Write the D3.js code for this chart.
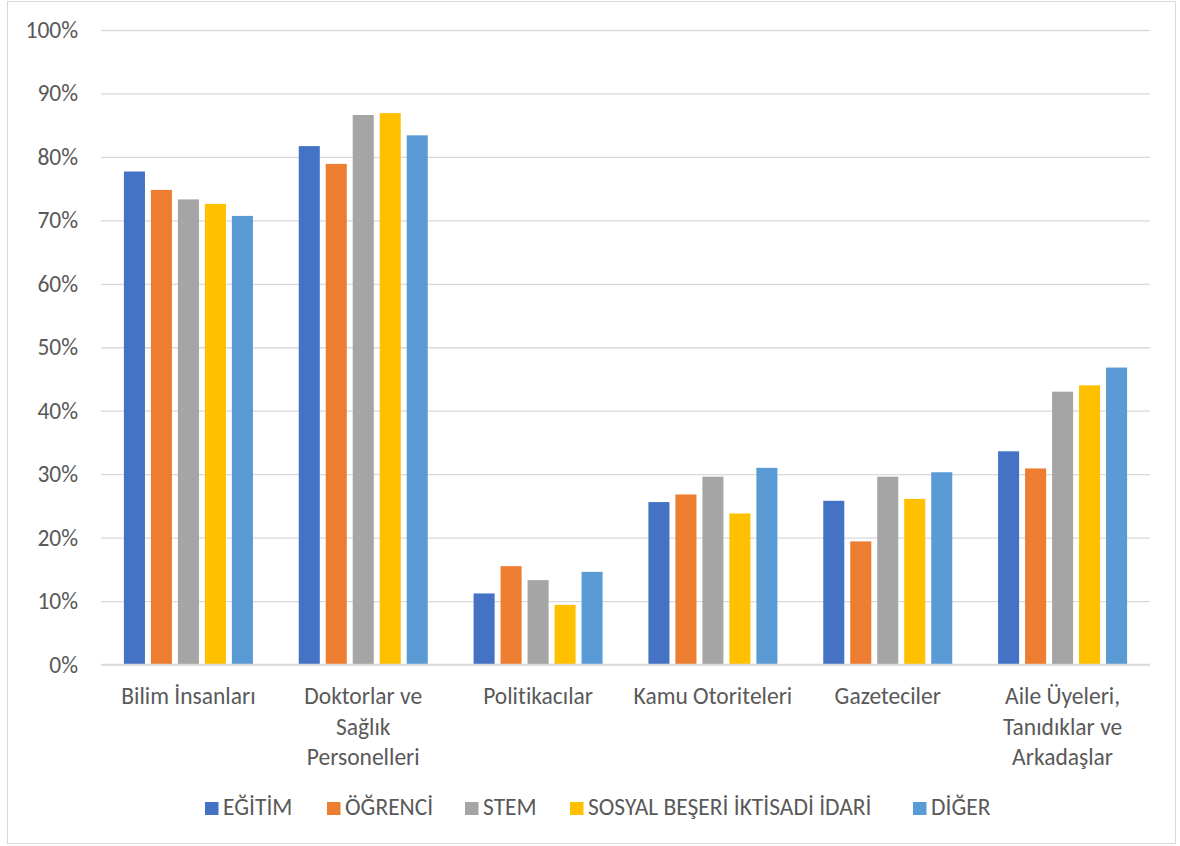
<!DOCTYPE html>
<html>
<head>
<meta charset="utf-8">
<script src="https://cdn.jsdelivr.net/npm/d3@7"></script>
<style>
  html, body { margin: 0; padding: 0; background: #fff; }
  svg text { font-family: Carlito, Calibri, Lato, "Open Sans", sans-serif; fill: #595959; font-variant-ligatures: none; }
</style>
</head>
<body>
<svg id="chart" width="1180" height="846"></svg>
<script>
// Respondent groups (series) and trusted information sources (categories)
const seriesNames = ["EĞİTİM", "ÖĞRENCİ", "STEM", "SOSYAL BEŞERİ İKTİSADİ İDARİ", "DİĞER"];
const seriesColors = ["#4472C4", "#ED7D31", "#A5A5A5", "#FFC000", "#5B9BD5"];
const categories = [
  "Bilim İnsanları",
  "Doktorlar ve\nSağlık\nPersonelleri",
  "Politikacılar",
  "Kamu Otoriteleri",
  "Gazeteciler",
  "Aile Üyeleri,\nTanıdıklar ve\nArkadaşlar"
];
// Percent values per series, in category order
const egitim  = [77.7, 81.7, 11.2, 25.6, 25.8, 33.6];
const ogrenci = [74.8, 78.9, 15.5, 26.8, 19.4, 30.9];
const stem    = [73.3, 86.6, 13.3, 29.6, 29.6, 43.0];
const sosyal  = [72.6, 86.9,  9.4, 23.8, 26.1, 44.0];
const diger   = [70.7, 83.4, 14.6, 31.0, 30.3, 46.8];
const seriesValues = [egitim, ogrenci, stem, sosyal, diger];
const yTicks = [0, 10, 20, 30, 40, 50, 60, 70, 80, 90, 100];

const svg = d3.select("#chart");
const W = 1180, H = 846;
const plot = { left: 101, right: 1150, top: 30, bottom: 664.5 };
const fontSize = 23.5;

// outer chart border
svg.append("rect")
  .attr("x", 7.5).attr("y", 1.5)
  .attr("width", W - 12).attr("height", H - 4)
  .attr("fill", "#fff").attr("stroke", "#d9d9d9").attr("stroke-width", 1);

const y = d3.scaleLinear().domain([0, 100]).range([plot.bottom, plot.top]);
const x0 = d3.scaleBand().domain(categories).range([plot.left, plot.right])
  .paddingInner(0.262).paddingOuter(0.131);
const x1 = d3.scaleBand().domain(seriesNames).range([0, x0.bandwidth()])
  .paddingInner(0.22).paddingOuter(0);

// gridlines and percent labels
const yAxis = d3.axisLeft(y).tickValues(yTicks)
  .tickSize(-(plot.right - plot.left)).tickPadding(23)
  .tickFormat(d => d + "%");
const gy = svg.append("g").attr("transform", `translate(${plot.left},0)`).call(yAxis);
gy.select(".domain").remove();
gy.selectAll(".tick line").attr("stroke", "#d9d9d9").attr("stroke-width", 1.3);
gy.selectAll(".tick text").attr("font-size", fontSize).attr("fill", "#595959")
  .attr("font-family", null);

// bars
const groups = svg.append("g").selectAll("g")
  .data(categories)
  .join("g")
  .attr("transform", d => `translate(${x0(d)},0)`);
groups.selectAll("rect")
  .data((c, ci) => seriesNames.map((s, si) => ({ s, si, v: seriesValues[si][ci] })))
  .join("rect")
  .attr("x", d => x1(d.s))
  .attr("width", x1.bandwidth())
  .attr("y", d => y(d.v))
  .attr("height", d => y(0) - y(d.v))
  .attr("fill", d => seriesColors[d.si]);

// baseline
svg.append("line")
  .attr("x1", plot.left).attr("x2", plot.right)
  .attr("y1", y(0)).attr("y2", y(0))
  .attr("stroke", "#d9d9d9").attr("stroke-width", 1.5);

// category labels (multi-line)
const xl = svg.append("g");
categories.forEach(c => {
  const cx = x0(c) + x0.bandwidth() / 2;
  const t = xl.append("text")
    .attr("text-anchor", "middle")
    .attr("font-size", fontSize)
    .attr("x", cx)
    .attr("y", 704);
  c.split("\n").forEach((ln, i) => {
    t.append("tspan")
      .attr("x", cx)
      .attr("dy", i === 0 ? 0 : 30.5)
      .text(ln);
  });
});

// legend
const legendX = [205, 327, 465, 570, 913];
const lg = svg.append("g");
seriesNames.forEach((s, i) => {
  lg.append("rect")
    .attr("x", legendX[i]).attr("y", 802)
    .attr("width", 13.5).attr("height", 13)
    .attr("fill", seriesColors[i]);
  lg.append("text")
    .attr("x", legendX[i] + 18).attr("y", 815)
    .attr("font-size", fontSize)
    .text(s);
});
</script>
</body>
</html>
